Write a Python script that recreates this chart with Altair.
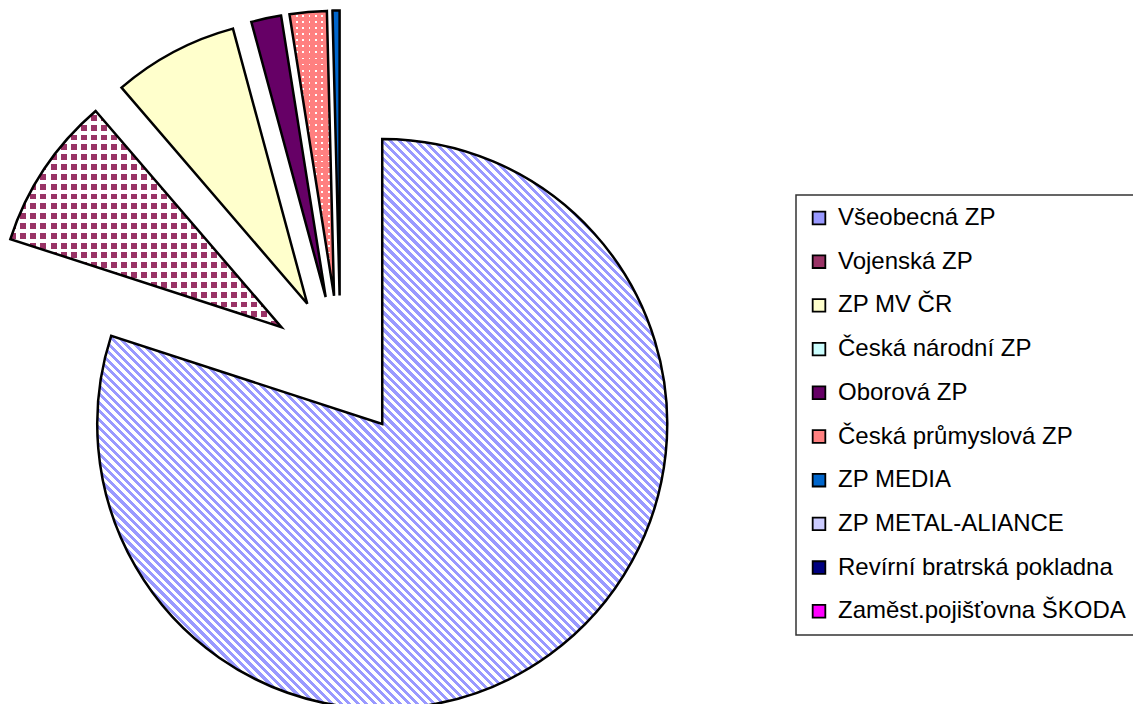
import math
import altair as alt
import pandas as pd

# ---- data ----
names = ["Všeobecná ZP", "Vojenská ZP", "ZP MV ČR", "Česká národní ZP", "Oborová ZP",
         "Česká průmyslová ZP", "ZP MEDIA", "ZP METAL-ALIANCE",
         "Revírní bratrská pokladna", "Zaměst.pojišťovna ŠKODA"]
values = [80.0, 8.7, 7.1, 0.0, 1.7, 2.1, 0.4, 0.0, 0.0, 0.0]
colors = ["#9999FF", "#993366", "#FFFFCC", "#CCFFFF", "#660066",
          "#FF8080", "#0066CC", "#CCCCFF", "#000080", "#FF00FF"]

df = pd.DataFrame({"idx": list(range(len(names))), "name": names, "value": values})

# ---- geometry / style ----
R = 285
CX, CY = 332.5, 358.5
EXP = 71
W, H = 1125, 696

total = sum(values)
def slice_bbox(name):
    i = names.index(name)
    a0 = sum(values[:i]) / total * 2 * math.pi
    a1 = sum(values[:i + 1]) / total * 2 * math.pi
    angs = [a0, a1] + [k * math.pi / 2 for k in range(5) if a0 < k * math.pi / 2 < a1]
    xs = [0.0] + [R * math.sin(a) for a in angs]
    ys = [0.0] + [-R * math.cos(a) for a in angs]
    return max(xs) - min(xs), max(ys) - min(ys)

def stripes(n, frac, c_on, c_off, x1, y1, x2, y2):
    stops = []
    t = 1.0 / n
    k = 0
    while k * t < 1.0:
        s = k * t
        m = min(1.0, (k + frac) * t)
        e = min(1.0, (k + 1) * t)
        stops += [alt.GradientStop(color=c_on, offset=s), alt.GradientStop(color=c_on, offset=m),
                  alt.GradientStop(color=c_off, offset=m), alt.GradientStop(color=c_off, offset=e)]
        k += 1
    return alt.LinearGradient(gradient="linear", stops=stops, x1=x1, y1=y1, x2=x2, y2=y2)

CLEAR = "rgba(255,255,255,0)"
WHITE = "#FFFFFF"

base = (
    alt.Chart(df)
    .transform_filter("datum.value > 0")
    .transform_joinaggregate(total="sum(value)")
    .transform_window(cum="sum(value)", sort=[alt.SortField("idx", order="ascending")])
    .transform_calculate(a1="datum.cum / datum.total * 2 * PI",
                         a0="(datum.cum - datum.value) / datum.total * 2 * PI")
    .transform_calculate(mid="(datum.a0 + datum.a1) / 2")
    .transform_calculate(px=f"{CX} + {EXP} * sin(datum.mid)",
                         py=f"{CY} - {EXP} * cos(datum.mid)")
)

def enc(ch, **extra):
    return ch.encode(
        x=alt.X("px:Q", scale=None, axis=None),
        y=alt.Y("py:Q", scale=None, axis=None),
        theta=alt.Theta("a0:Q", scale=None, stack=False),
        theta2=alt.Theta2("a1:Q"),
        **extra,
    )

legend = alt.Legend(
    title=None, orient="none", legendX=788, legendY=187, padding=11,
    strokeColor="#333333", fillColor="white",
    symbolType="square", symbolSize=160, symbolStrokeColor="black", symbolStrokeWidth=1.8,
    symbolOpacity=1, labelFont="Liberation Sans", labelFontSize=24, labelColor="black",
    labelOffset=7, rowPadding=19.7, labelLimit=600,
)

layer_base = enc(base.mark_arc(radius=R, strokeWidth=0),
                 color=alt.Color("name:N", scale=alt.Scale(domain=names, range=colors), legend=legend))

# Všeobecná: diagonal stripes
bw, bh = slice_bbox("Všeobecná ZP")
n_big = int(round(math.hypot(bw, bh) / 6.0))
layer_big = enc(base.transform_filter("datum.idx == 0").mark_arc(
    radius=R, strokeWidth=0, fill=stripes(n_big, 0.5, "#9999FF", WHITE, 0, 1, 1, 0)))

# Vojenská: dot grid
vw, vh = slice_bbox("Vojenská ZP")
layer_voj_a = enc(base.transform_filter("datum.idx == 1").mark_arc(
    radius=R, strokeWidth=0, fill=stripes(int(round(vw / 10.0)), 0.6, "#993366", WHITE, 0, 0, 1, 0)))
layer_voj_b = enc(base.transform_filter("datum.idx == 1").mark_arc(
    radius=R, strokeWidth=0, fill=stripes(int(round(vh / 10.0)), 0.4, WHITE, CLEAR, 0, 0, 0, 1)))

# Česká průmyslová: white dots
pw, ph = slice_bbox("Česká průmyslová ZP")
layer_pr_a = enc(base.transform_filter("datum.idx == 5").mark_arc(
    radius=R, strokeWidth=0, fill=stripes(max(1, int(round(pw / 6.0))), 0.3, WHITE, "#FF8080", 0, 0, 1, 0)))
layer_pr_b = enc(base.transform_filter("datum.idx == 5").mark_arc(
    radius=R, strokeWidth=0, fill=stripes(int(round(ph / 6.0)), 0.7, "#FF8080", CLEAR, 0, 0, 0, 1)))

layer_outline = enc(base.mark_arc(radius=R, fillOpacity=0, stroke="black",
                                  strokeWidth=2.5, strokeJoin="miter"))

chart = (
    alt.layer(layer_base, layer_big, layer_voj_a, layer_voj_b, layer_pr_a, layer_pr_b, layer_outline)
    .properties(width=W, height=H, padding=0, autosize=alt.AutoSizeParams(type="none"))
    .configure_view(stroke=None)
    .configure_legend(strokeWidth=1.5)
)

chart.save("out.html", embed_options={"renderer": "svg", "actions": False})
